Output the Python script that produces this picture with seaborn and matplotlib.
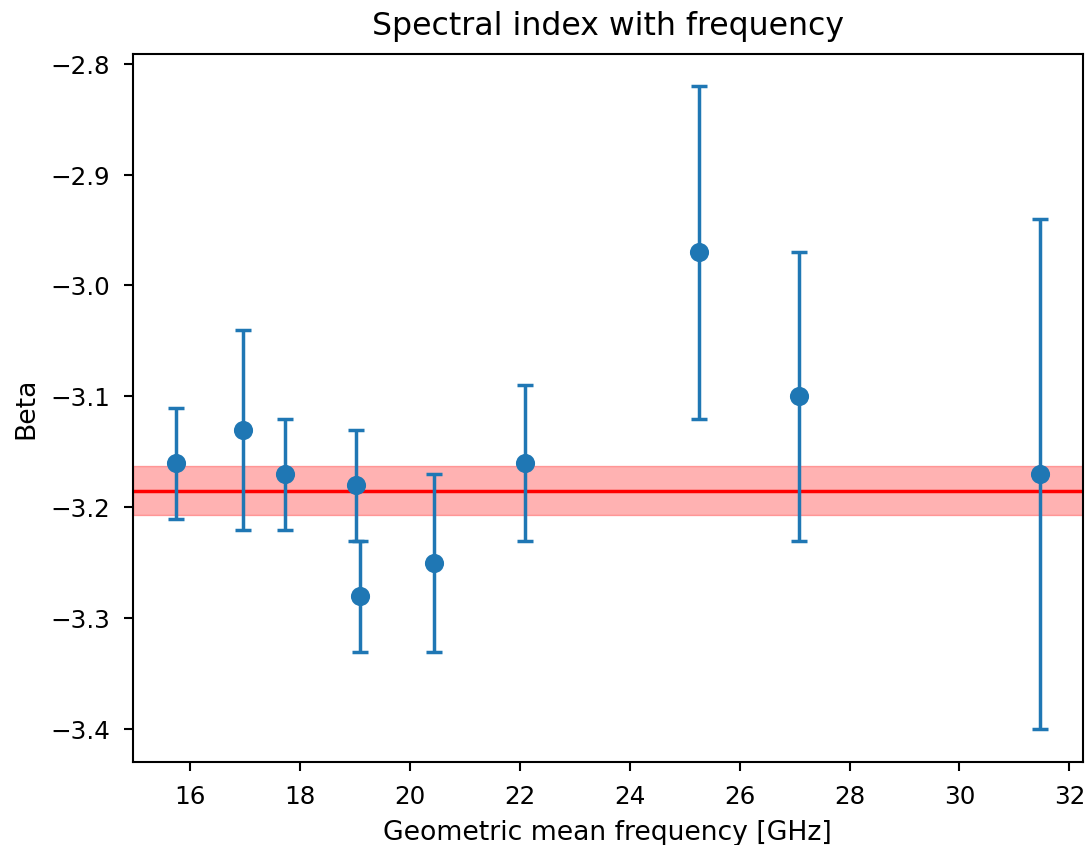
import matplotlib
matplotlib.use("Agg")
import matplotlib.pyplot as plt
import seaborn as sns
import numpy as np

# Data
freq_ghz = [15.75, 16.97, 17.73, 19.02, 19.09, 20.44, 22.09, 25.26, 27.08, 31.46]
beta = [-3.16, -3.13, -3.17, -3.18, -3.28, -3.25, -3.16, -2.97, -3.10, -3.17]
beta_err = [0.05, 0.09, 0.05, 0.05, 0.05, 0.08, 0.07, 0.15, 0.13, 0.23]
beta_mean = -3.185
beta_mean_err = 0.022

title = "Spectral index with frequency"
xlabel = "Geometric mean frequency [GHz]"
ylabel = "Beta"

sns.set_style("white")
plt.rcParams["font.family"] = ["DejaVu Sans"]
plt.rcParams["text.color"] = "black"
plt.rcParams["axes.labelcolor"] = "black"
plt.rcParams["xtick.color"] = "black"
plt.rcParams["ytick.color"] = "black"

blue = "#1f77b4"
fig = plt.figure(figsize=(10.86, 8.455), dpi=100)
ax = fig.add_axes([0.1222, 0.0986, 0.9972 - 0.1222, 0.9361 - 0.0986])

ax.errorbar(freq_ghz, beta, yerr=beta_err, fmt="none", ecolor=blue,
            elinewidth=2.5, capsize=5.8, capthick=2.5, zorder=2)
sns.scatterplot(x=freq_ghz, y=beta, ax=ax, color=blue, s=190,
                linewidth=0, zorder=3, legend=False)

ax.axhline(beta_mean, color="red", lw=2.5, zorder=1.5)
ax.axhspan(beta_mean - beta_mean_err, beta_mean + beta_mean_err,
           color="red", alpha=0.3, zorder=1)

ax.set_xticks(np.arange(16, 33, 2))
ax.set_yticks([-2.8, -2.9, -3.0, -3.1, -3.2, -3.3, -3.4])
ax.margins(x=0.05, y=0.05)

for s in ax.spines.values():
    s.set_visible(True)
    s.set_color("black")
    s.set_linewidth(1.5)
ax.tick_params(axis="both", which="major", direction="out", length=6.6,
               width=1.5, labelsize=17.7, pad=9.7, bottom=True, left=True,
               color="black")

ax.set_title(title, fontsize=22.7, pad=13.7)
ax.set_xlabel(xlabel, fontsize=19.2, labelpad=8.0)
ax.set_ylabel(ylabel, fontsize=19.2, labelpad=7.7)

fig.savefig("out.png", dpi=100)
